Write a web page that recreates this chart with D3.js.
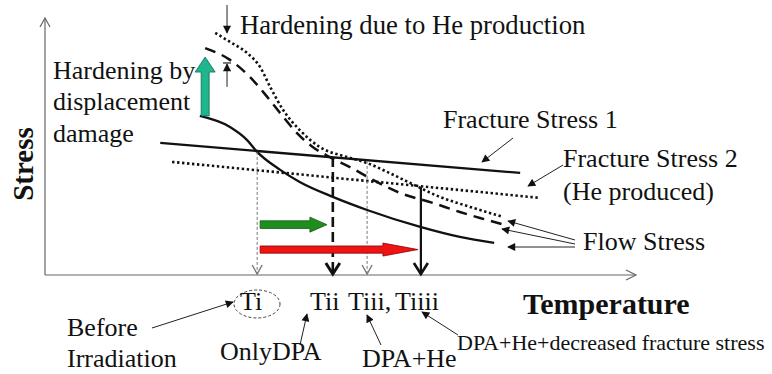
<!DOCTYPE html>
<html>
<head>
<meta charset="utf-8">
<script src="https://cdn.jsdelivr.net/npm/d3@7"></script>
<style>
  html, body { margin: 0; padding: 0; background: #fff; }
  svg { display: block; }
  text { font-family: "Liberation Serif", "Times New Roman", serif; fill: #111; }
</style>
</head>
<body>
<svg id="chart" width="772" height="374"></svg>
<script>
// Stress vs. temperature: flow stress curves and fracture stress lines (arbitrary units 0-100)
const flowUnirradiated = [[26.2,61.9],[31.3,57.6],[34.2,52.5],[35.9,47.9],[39.8,40.9],[43.1,36.2],[48.7,30.4],[54.5,25.3],[63.5,18.7],[70.2,14.8],[76.0,12.5]];
const flowDPA = [[27.1,88.3],[31.3,83.7],[34.7,77.0],[37.6,69.3],[39.8,63.0],[42.6,55.3],[45.3,49.8],[48.2,45.9],[51.6,42.0],[55.5,37.0],[60.1,31.9],[65.7,28.0],[70.2,24.5],[73.6,22.2],[77.3,19.8]];
const flowDPAHe = [[28.8,94.2],[31.3,90.7],[34.2,86.4],[36.4,80.9],[38.1,73.2],[40.3,64.2],[43.1,56.4],[46.5,49.8],[51.1,45.9],[54.5,43.6],[57.9,40.1],[61.8,35.8],[66.8,30.4],[71.9,26.5],[77.5,22.6]];
const fracture1 = [[19.5,51.4],[80.4,39.7]];
const fracture2 = [[21.5,44.0],[83.8,30.0]];

// Transition temperatures (where flow stress meets fracture stress)
const transitionNames = ["Ti", "Tii", "Tiii", "Tiiii"];
const transitionT = [35.9, 48.7, 54.5, 63.6];
const transitionS = [47.9, 45.9, 44.4, 34.2];

// Temperature shifts
const shiftDPA = [36.4, 47.7, 19.6];      // from, to, stress level
const shiftTotal = [36.4, 63.1, 9.9];
// Hardening arrows
const hardeningDPA = [27.1, 61.9, 84.8];  // temperature, from, to
const hardeningHe = [30.8, 73.2, 82.5, 94.2];

const svg = d3.select("#chart");
const x = d3.scaleLinear().domain([0, 100]).range([45, 636]);
const y = d3.scaleLinear().domain([0, 100]).range([275, 18]);

const line = d3.line().x(d => x(d[0])).y(d => y(d[1]));
const curve = d3.line().x(d => x(d[0])).y(d => y(d[1])).curve(d3.curveMonotoneX);

const defs = svg.append("defs");
defs.append("marker").attr("id", "tri").attr("viewBox", "0 0 10 10")
  .attr("refX", 9).attr("refY", 5).attr("markerWidth", 10).attr("markerHeight", 8)
  .attr("markerUnits", "userSpaceOnUse").attr("orient", "auto")
  .append("path").attr("d", "M0,0 L10,5 L0,10 Z").attr("fill", "#111");

// Axes
const axisColor = "#666";
svg.append("line").attr("x1", x(0)).attr("y1", y(0)).attr("x2", x(0)).attr("y2", y(100))
  .attr("stroke", axisColor).attr("stroke-width", 1.2);
svg.append("line").attr("x1", x(0)).attr("y1", y(0)).attr("x2", x(100)).attr("y2", y(0))
  .attr("stroke", axisColor).attr("stroke-width", 1.2);
svg.append("path").attr("d", `M${x(0)-5},${y(100)+9} L${x(0)},${y(100)} L${x(0)+5},${y(100)+9}`)
  .attr("fill", "none").attr("stroke", axisColor).attr("stroke-width", 1.2);
svg.append("path").attr("d", `M${x(100)-10},${y(0)-5} L${x(100)},${y(0)} L${x(100)-10},${y(0)+5}`)
  .attr("fill", "none").attr("stroke", axisColor).attr("stroke-width", 1.2);

// Fracture stress lines
svg.append("path").attr("d", line(fracture1)).attr("fill", "none").attr("stroke", "#111").attr("stroke-width", 2.3);
svg.append("path").attr("d", line(fracture2)).attr("fill", "none").attr("stroke", "#111").attr("stroke-width", 2.6)
  .attr("stroke-dasharray", "2.4 2.6");

// Flow stress curves
svg.append("path").attr("d", curve(flowUnirradiated)).attr("fill", "none").attr("stroke", "#111").attr("stroke-width", 2.3);
svg.append("path").attr("d", curve(flowDPA)).attr("fill", "none").attr("stroke", "#111").attr("stroke-width", 2.5)
  .attr("stroke-dasharray", "11 7");
svg.append("path").attr("d", curve(flowDPAHe)).attr("fill", "none").attr("stroke", "#111").attr("stroke-width", 2.6)
  .attr("stroke-dasharray", "2.4 2.6");

// Vertical drops from each intersection to the temperature axis
const dropStyles = [
  { stroke: "#777", width: 1, dash: "3 2", head: 5, headLen: 10 },
  { stroke: "#111", width: 2.6, dash: "10 5", head: 7, headLen: 12 },
  { stroke: "#777", width: 1, dash: "3 2", head: 5, headLen: 10 },
  { stroke: "#111", width: 2.2, dash: null, head: 7, headLen: 12 }
];
transitionT.forEach((t, i) => {
  const s = dropStyles[i];
  const px = x(t);
  svg.append("line").attr("x1", px).attr("y1", y(transitionS[i])).attr("x2", px).attr("y2", y(0) - 1)
    .attr("stroke", s.stroke).attr("stroke-width", s.width).attr("stroke-dasharray", s.dash);
  svg.append("path").attr("d", `M${px - s.head},${y(0) - s.headLen} L${px},${y(0) - 1} L${px + s.head},${y(0) - s.headLen}`)
    .attr("fill", "none").attr("stroke", s.stroke).attr("stroke-width", s.width + 0.4);
});

// Horizontal block arrows for the temperature shifts
function hArrow(spec, bodyHalf, headHalf, headLen, fill, stroke) {
  const x0 = x(spec[0]), x1 = x(spec[1]), cy = y(spec[2]);
  const xb = x1 - headLen;
  const d = `M${x0},${cy - bodyHalf} L${xb},${cy - bodyHalf} L${xb},${cy - headHalf} L${x1},${cy} ` +
            `L${xb},${cy + headHalf} L${xb},${cy + bodyHalf} L${x0},${cy + bodyHalf} Z`;
  svg.append("path").attr("d", d).attr("fill", fill).attr("stroke", stroke).attr("stroke-width", 0.8);
}
hArrow(shiftDPA, 3.8, 7.5, 17, "#1f8e1f", "#0f5a0f");
hArrow(shiftTotal, 3.6, 6.5, 35, "#ee1414", "#8e0000");

// Vertical block arrow: hardening by displacement damage
{
  const cx = x(hardeningDPA[0]), yb = y(hardeningDPA[1]), yt = y(hardeningDPA[2]);
  const bh = 4, hh = 10, hl = 15, yh = yt + hl;
  const d = `M${cx - bh},${yb} L${cx - bh},${yh} L${cx - hh},${yh} L${cx},${yt} L${cx + hh},${yh} L${cx + bh},${yh} L${cx + bh},${yb} Z`;
  svg.append("path").attr("d", d).attr("fill", "#1fb68e").attr("stroke", "#0c6b52").attr("stroke-width", 0.8);
}

// Thin arrows marking the He hardening gap
{
  const cx = x(hardeningHe[0]);
  svg.append("line").attr("x1", cx).attr("y1", 5).attr("x2", cx).attr("y2", y(hardeningHe[3]))
    .attr("stroke", "#222").attr("stroke-width", 1).attr("marker-end", "url(#tri)");
  svg.append("line").attr("x1", cx).attr("y1", y(hardeningHe[1])).attr("x2", cx).attr("y2", y(hardeningHe[2]) + 1)
    .attr("stroke", "#222").attr("stroke-width", 1).attr("marker-end", "url(#tri)");
  svg.append("line").attr("x1", cx - 4).attr("y1", y(hardeningHe[2])).attr("x2", cx + 4).attr("y2", y(hardeningHe[2]))
    .attr("stroke", "#222").attr("stroke-width", 1.2);
}

// Leader arrows
const leaders = [
  [513, 138, 482, 162],
  [563, 165, 528, 186],
  [575, 240, 508, 221],
  [575, 244, 502, 229],
  [575, 247, 508, 247],
  [152, 328, 233, 302],
  [300, 345, 307, 314],
  [381, 345, 367, 315],
  [458, 335, 422, 312]
];
leaders.forEach(l => {
  svg.append("line").attr("x1", l[0]).attr("y1", l[1]).attr("x2", l[2]).attr("y2", l[3])
    .attr("stroke", "#222").attr("stroke-width", 1).attr("marker-end", "url(#tri)");
});

// Dashed ellipse around Ti
svg.append("ellipse").attr("cx", 257).attr("cy", 304).attr("rx", 23).attr("ry", 14)
  .attr("fill", "none").attr("stroke", "#444").attr("stroke-width", 1).attr("stroke-dasharray", "3 2");

// Text
function label(txt, tx, ty, size, weight) {
  return svg.append("text").attr("x", tx).attr("y", ty).attr("font-size", size)
    .attr("font-weight", weight || "normal").text(txt);
}
const fs = 26;
label("Hardening due to He production", 240, 34, 26.7);
label("Hardening by", 53, 79, fs);
label("displacement", 53, 110, fs);
label("damage", 53, 142, fs);
label("Fracture Stress 1", 443, 128, fs);
label("Fracture Stress 2", 563, 167, fs);
label("(He produced)", 563, 200, fs);
label("Flow Stress", 583, 250, fs);

label(transitionNames[0], 240, 310, fs);
label(transitionNames[1], 310, 310, fs);
label(transitionNames[2] + ",", 348, 310, fs);
label(transitionNames[3], 395, 310, fs);

label("Temperature", 523, 314, 30, "bold");
svg.append("text").attr("transform", "translate(33,164) rotate(-90)").attr("text-anchor", "middle")
  .attr("font-size", 29).attr("font-weight", "bold").text("Stress");

label("Before", 67, 336, fs);
label("Irradiation", 67, 367, fs);
label("OnlyDPA", 220, 360, fs);
label("DPA+He", 362, 367, fs);
label("DPA+He+decreased fracture stress", 457, 350, 22);
</script>
</body>
</html>
